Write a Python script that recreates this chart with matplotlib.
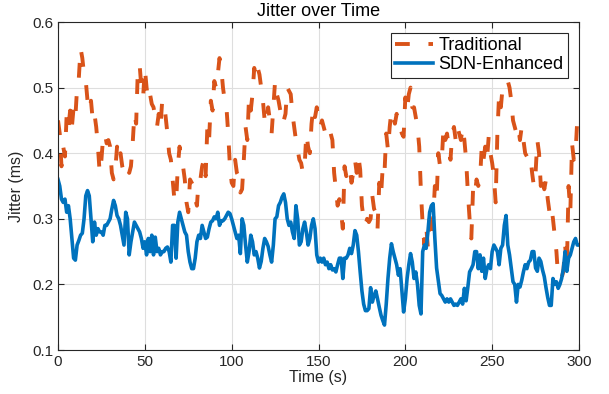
import numpy as np
import matplotlib
matplotlib.use('Agg')
import matplotlib.pyplot as plt

plt.rcParams['font.family'] = ['Liberation Sans', 'DejaVu Sans']

# time axis, one sample per second
time_s = np.arange(0, 301)

# Traditional jitter (ms)
traditional = [
    0.45, 0.43, 0.38, 0.41, 0.395, 0.46, 0.44, 0.465, 0.44, 0.47,
    0.455, 0.50, 0.515, 0.56, 0.545, 0.52, 0.51, 0.48, 0.465, 0.48,
    0.45, 0.46, 0.44, 0.41, 0.37, 0.39, 0.425, 0.43, 0.415, 0.42,
    0.41, 0.37, 0.36, 0.375, 0.41, 0.39, 0.40, 0.38, 0.37, 0.38,
    0.375, 0.37, 0.38, 0.415, 0.46, 0.445, 0.53, 0.535, 0.50, 0.485,
    0.53, 0.50, 0.48, 0.49, 0.475, 0.47, 0.455, 0.44, 0.46, 0.44,
    0.48, 0.48, 0.455, 0.43, 0.40, 0.39, 0.36, 0.33, 0.325, 0.38,
    0.41, 0.39, 0.38, 0.36, 0.325, 0.31, 0.36, 0.355, 0.35, 0.33,
    0.32, 0.36, 0.36, 0.38, 0.39, 0.365, 0.44, 0.42, 0.48, 0.465,
    0.51, 0.50, 0.52, 0.545, 0.53, 0.50, 0.48, 0.47, 0.43, 0.38,
    0.355, 0.35, 0.39, 0.37, 0.365, 0.34, 0.345, 0.39, 0.44, 0.42,
    0.485, 0.465, 0.49, 0.53, 0.515, 0.53, 0.52, 0.50, 0.48, 0.45,
    0.443, 0.47, 0.45, 0.43, 0.47, 0.51, 0.49, 0.48, 0.465, 0.47,
    0.45, 0.46, 0.50, 0.495, 0.49, 0.46, 0.44, 0.42, 0.405, 0.39,
    0.385, 0.37, 0.38, 0.43, 0.41, 0.40, 0.445, 0.47, 0.455, 0.47,
    0.45, 0.44, 0.45, 0.44, 0.43, 0.44, 0.43, 0.43, 0.42, 0.37,
    0.345, 0.32, 0.33, 0.31, 0.285, 0.38, 0.365, 0.37, 0.38, 0.355,
    0.37, 0.39, 0.37, 0.395, 0.375, 0.32, 0.30, 0.29, 0.30, 0.295,
    0.30, 0.335, 0.315, 0.31, 0.285, 0.355, 0.335, 0.38, 0.37, 0.43,
    0.405, 0.44, 0.465, 0.455, 0.445, 0.46, 0.44, 0.44, 0.43, 0.425,
    0.485, 0.465, 0.49, 0.50, 0.47, 0.47, 0.455, 0.44, 0.41, 0.34,
    0.29, 0.26, 0.29, 0.255, 0.30, 0.275, 0.30, 0.35, 0.33, 0.40,
    0.38, 0.39, 0.44, 0.42, 0.43, 0.41, 0.39, 0.43, 0.44, 0.42,
    0.44, 0.43, 0.42, 0.44, 0.42, 0.39, 0.34, 0.30, 0.27, 0.345,
    0.335, 0.36, 0.35, 0.36, 0.41, 0.39, 0.41, 0.39, 0.425, 0.40,
    0.385, 0.365, 0.325, 0.43, 0.49, 0.47, 0.50, 0.51, 0.51, 0.51,
    0.50, 0.48, 0.45, 0.44, 0.43, 0.44, 0.42, 0.44, 0.42, 0.40,
    0.395, 0.40, 0.395, 0.37, 0.35, 0.37, 0.42, 0.40, 0.35, 0.37,
    0.345, 0.36, 0.33, 0.31, 0.32, 0.30, 0.275, 0.25, 0.21, 0.21,
    0.21, 0.22, 0.26, 0.225, 0.35, 0.31, 0.415, 0.39, 0.40, 0.45,
    0.44,
]

# SDN-Enhanced jitter (ms)
sdn_enhanced = [
    0.36, 0.35, 0.33, 0.325, 0.33, 0.31, 0.32, 0.30, 0.27, 0.24,
    0.237, 0.26, 0.267, 0.275, 0.278, 0.30, 0.335, 0.343, 0.335, 0.30,
    0.265, 0.295, 0.275, 0.285, 0.28, 0.28, 0.275, 0.29, 0.29, 0.295,
    0.30, 0.315, 0.328, 0.32, 0.305, 0.30, 0.29, 0.275, 0.26, 0.31,
    0.30, 0.245, 0.265, 0.28, 0.295, 0.29, 0.285, 0.28, 0.27, 0.255,
    0.265, 0.245, 0.27, 0.25, 0.275, 0.245, 0.272, 0.25, 0.255, 0.245,
    0.25, 0.25, 0.255, 0.257, 0.25, 0.234, 0.29, 0.29, 0.24, 0.295,
    0.31, 0.30, 0.29, 0.28, 0.275, 0.25, 0.234, 0.224, 0.224, 0.24,
    0.265, 0.275, 0.27, 0.29, 0.28, 0.27, 0.272, 0.285, 0.295, 0.297,
    0.303, 0.30, 0.31, 0.29, 0.297, 0.297, 0.30, 0.305, 0.31, 0.308,
    0.30, 0.29, 0.28, 0.27, 0.275, 0.247, 0.30, 0.29, 0.26, 0.234,
    0.25, 0.275, 0.265, 0.245, 0.25, 0.24, 0.225, 0.235, 0.255, 0.27,
    0.265, 0.258, 0.245, 0.234, 0.26, 0.30, 0.303, 0.32, 0.325, 0.333,
    0.338, 0.325, 0.30, 0.29, 0.295, 0.28, 0.27, 0.32, 0.30, 0.26,
    0.265, 0.285, 0.295, 0.28, 0.26, 0.27, 0.29, 0.30, 0.285, 0.245,
    0.234, 0.24, 0.234, 0.24, 0.23, 0.234, 0.224, 0.23, 0.222, 0.224,
    0.219, 0.23, 0.24, 0.24, 0.209, 0.24, 0.24, 0.245, 0.255, 0.247,
    0.26, 0.282, 0.275, 0.25, 0.219, 0.19, 0.17, 0.16, 0.16, 0.163,
    0.195, 0.173, 0.183, 0.19, 0.178, 0.165, 0.153, 0.145, 0.138, 0.17,
    0.209, 0.24, 0.262, 0.25, 0.24, 0.23, 0.214, 0.224, 0.19, 0.158,
    0.178, 0.209, 0.23, 0.247, 0.234, 0.209, 0.219, 0.20, 0.168, 0.155,
    0.25, 0.26, 0.255, 0.28, 0.31, 0.32, 0.323, 0.27, 0.225, 0.205,
    0.186, 0.183, 0.178, 0.173, 0.178, 0.173, 0.178, 0.173, 0.168, 0.17,
    0.168, 0.173, 0.178, 0.17, 0.194, 0.175, 0.196, 0.219, 0.224, 0.23,
    0.25, 0.25, 0.224, 0.245, 0.22, 0.24, 0.209, 0.224, 0.23, 0.224,
    0.25, 0.26, 0.255, 0.25, 0.23, 0.255, 0.26, 0.29, 0.305, 0.26,
    0.245, 0.225, 0.204, 0.20, 0.173, 0.20, 0.196, 0.206, 0.219, 0.23,
    0.224, 0.234, 0.237, 0.25, 0.25, 0.225, 0.22, 0.24, 0.235, 0.222,
    0.212, 0.195, 0.18, 0.168, 0.168, 0.209, 0.20, 0.204, 0.194, 0.20,
    0.209, 0.224, 0.25, 0.22, 0.24, 0.245, 0.255, 0.265, 0.27, 0.26,
    0.26,
]

x_ticks = [0, 50, 100, 150, 200, 250, 300]
y_ticks = [0.1, 0.2, 0.3, 0.4, 0.5, 0.6]

fig = plt.figure(figsize=(6.09, 3.94), dpi=100)
ax = fig.add_axes([58/609, 44/394, 521/609, 328/394])

ax.plot(time_s, traditional, color='#D95319', lw=2.8,
        linestyle=(0, (3.8, 4.8)), label='Traditional')
ax.plot(time_s, sdn_enhanced, color='#0072BD', lw=2.6,
        label='SDN-Enhanced')

ax.set_xlim(0, 300)
ax.set_ylim(0.1, 0.6)
ax.set_xticks(x_ticks)
ax.set_yticks(y_ticks)
ax.set_yticklabels(['%g' % v for v in y_ticks])
ax.grid(True, color='#dedede', lw=0.8)
ax.set_axisbelow(True)
ax.tick_params(direction='in', top=True, right=True, length=4,
               labelsize=11, colors='#262626')
for s in ax.spines.values():
    s.set_color('#262626')
    s.set_linewidth(0.8)

ax.set_title('Jitter over Time', fontsize=13, color='black', pad=4)
ax.set_xlabel('Time (s)', fontsize=11.5, color='#262626', labelpad=1)
ax.set_ylabel('Jitter (ms)', fontsize=11.5, color='#262626', labelpad=6)

leg = ax.legend(loc='upper right', fontsize=13, handlelength=2.1,
                fancybox=False, framealpha=1, edgecolor='#262626',
                borderpad=0.25, labelspacing=0.1, handletextpad=0.3,
                borderaxespad=0.6)
leg.get_frame().set_linewidth(0.8)

fig.savefig('out.png', dpi=100)
